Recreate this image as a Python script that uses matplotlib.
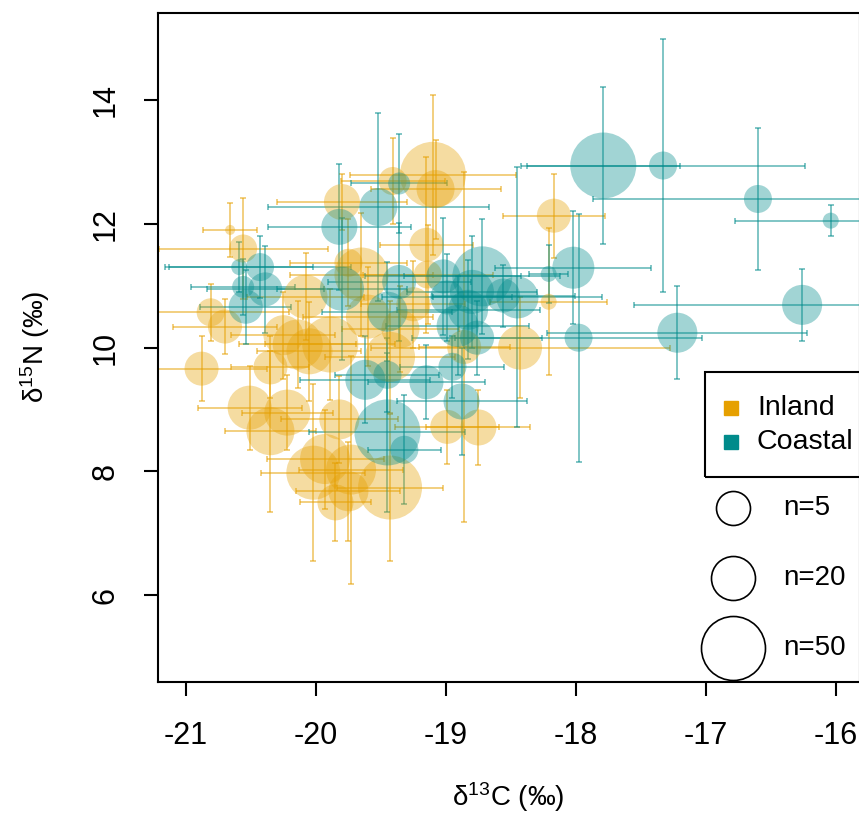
import numpy as np
import matplotlib
matplotlib.use("Agg")
import matplotlib.pyplot as plt
from matplotlib.lines import Line2D
from matplotlib.patches import Rectangle

plt.rcParams["font.family"] = ["Liberation Sans", "DejaVu Sans"]
plt.rcParams["mathtext.fontset"] = "custom"
plt.rcParams["mathtext.rm"] = "Liberation Sans"
plt.rcParams["mathtext.it"] = "Liberation Sans:italic"
plt.rcParams["mathtext.bf"] = "Liberation Sans:bold"

# ---- Inland sites: mean d13C, mean d15N, sample size, SDs ----
inland_d13c = [-20.66, -20.56, -20.81, -20.70, -20.88, -20.51, -20.35, -20.22, -20.02, -19.85,
               -19.73, -19.75, -19.93, -19.43, -20.14, -20.05, -20.35, -19.89, -19.43, -19.65,
               -19.10, -19.08, -19.41, -19.80, -19.15, -18.17, -18.21, -18.43, -18.75, -18.99,
               -19.14, -19.82, -20.08, -19.25, -18.86, -19.60, -19.35, -20.25, -19.75]
inland_d15n = [11.90, 11.60, 10.57, 10.34, 9.66, 9.03, 8.65, 8.95, 7.98, 7.50,
               8.03, 7.68, 8.20, 7.74, 10.05, 9.94, 9.68, 10.05, 9.85, 11.18,
               12.79, 12.56, 12.69, 12.35, 11.66, 12.13, 10.74, 10.00, 8.71, 8.72,
               11.18, 8.84, 10.82, 10.70, 10.01, 10.50, 10.30, 10.20, 11.37]
inland_n = [1, 4, 4, 5, 5, 20, 26, 23, 35, 8,
            29, 14, 29, 50, 29, 23, 5, 38, 29, 35,
            53, 11, 4, 8, 5, 5, 2, 20, 8, 5,
            4, 14, 20, 5, 5, 20, 11, 14, 4]
inland_sd13c = [0.21, 0.65, 0.60, 0.40, 0.50, 0.40, 0.35, 0.35, 0.40, 0.27,
                0.40, 0.40, 0.45, 0.41, 0.45, 0.40, 0.30, 0.50, 0.50, 0.55,
                0.64, 0.50, 0.40, 0.50, 0.36, 0.39, 0.45, 1.15, 0.40, 0.40,
                0.50, 0.45, 0.45, 0.40, 0.35, 0.50, 0.45, 0.40, 0.45]
inland_sd15n = [0.43, 0.82, 0.46, 0.45, 0.53, 0.68, 1.30, 0.60, 1.43, 0.63,
                1.84, 0.80, 0.80, 1.19, 0.70, 0.80, 0.50, 0.90, 0.90, 1.00,
                1.29, 0.80, 0.70, 0.45, 1.42, 0.68, 1.19, 0.81, 0.60, 0.60,
                0.80, 0.70, 0.70, 0.70, 2.83, 0.80, 0.70, 0.70, 0.70]

# ---- Coastal sites ----
coastal_d13c = [-17.79, -17.33, -16.60, -16.04, -16.26, -17.22, -17.98, -18.02, -18.21, -18.45,
                -18.56, -18.72, -18.80, -19.02, -19.36, -19.52, -19.82, -19.80, -19.36, -19.45,
                -19.62, -19.45, -19.15, -18.95, -18.88, -19.45, -19.32, -18.91, -18.76, -20.59,
                -20.43, -20.56, -20.39, -20.54, -18.99, -18.83]
coastal_d15n = [12.94, 12.94, 12.40, 12.05, 10.69, 10.24, 10.16, 11.29, 11.19, 10.81,
                10.84, 11.15, 10.90, 11.15, 12.65, 12.27, 11.95, 10.95, 11.06, 10.58,
                9.48, 9.56, 9.44, 9.69, 9.13, 8.63, 8.35, 10.35, 10.16, 11.30,
                11.30, 10.98, 10.94, 10.66, 10.81, 10.61]
coastal_n = [53, 4, 4, 2, 14, 14, 4, 17, 2, 17,
             5, 44, 20, 5, 3, 11, 8, 20, 5, 14,
             14, 4, 5, 4, 8, 53, 4, 17, 5, 2,
             4, 3, 5, 5, 5, 14]
coastal_sd13c = [0.59, 1.09, 1.27, 0.74, 1.29, 1.00, 0.95, 0.60, 0.15, 0.65,
                 0.55, 0.60, 0.50, 0.60, 0.37, 0.85, 0.55, 0.50, 0.55, 0.50,
                 0.50, 0.40, 0.45, 0.40, 0.50, 0.60, 0.28, 0.55, 0.50, 0.57,
                 0.70, 0.40, 0.45, 0.35, 0.50, 0.55]
coastal_sd15n = [1.27, 2.05, 1.15, 0.25, 0.58, 0.75, 2.00, 0.91, 0.47, 2.10,
                 0.50, 0.93, 0.90, 0.95, 0.80, 1.52, 1.02, 1.15, 0.95, 0.80,
                 0.70, 0.60, 0.60, 0.50, 0.87, 1.29, 0.88, 0.80, 0.60, 0.40,
                 0.50, 0.45, 0.70, 0.60, 0.70, 0.80]

group_labels = ["Inland", "Coastal"]
legend_n = [5, 20, 50]
x_ticks = [-21, -20, -19, -18, -17, -16]
y_ticks = [6, 8, 10, 12, 14]

INLAND_COL = "#E6A000"
COAST_COL = "#008B8B"

W, H = 859, 813
DPI = 100


def radius_px(n):
    """Circle radius (pixels) used to encode sample size."""
    return np.interp(n, [0, 5, 20, 50, 100], [2, 17, 22, 32, 48.67])


def area_pts(n):
    d = 2 * radius_px(np.asarray(n, float)) * 72.0 / DPI
    return d ** 2


def fx(px):
    return px / W


def fy(py):
    return 1 - py / H


fig = plt.figure(figsize=(W / DPI, H / DPI), dpi=DPI)
ax = fig.add_axes([fx(158), fy(682), (860 - 158) / W, (682 - 13) / H])
ax.set_xlim(-21.215, -15.815)
ax.set_ylim(4.60, 15.403)

for d13c, d15n, n, s13, s15, col in [
    (inland_d13c, inland_d15n, inland_n, inland_sd13c, inland_sd15n, INLAND_COL),
    (coastal_d13c, coastal_d15n, coastal_n, coastal_sd13c, coastal_sd15n, COAST_COL),
]:
    ax.errorbar(d13c, d15n, xerr=s13, yerr=s15, fmt="none", ecolor=col,
                alpha=0.5, elinewidth=1.4, capsize=2, capthick=1.4, zorder=2)
    ax.scatter(d13c, d15n, s=area_pts(n), color=col, alpha=0.37,
               linewidths=0, zorder=3)

for side in ["left", "top", "bottom", "right"]:
    ax.spines[side].set_linewidth(1.5)
ax.set_xticks(x_ticks)
ax.set_xticklabels([str(t) for t in x_ticks])
ax.set_yticks(y_ticks)
ax.set_yticklabels([str(t) for t in y_ticks], rotation=90, va="center")
ax.tick_params(axis="both", direction="out", length=10, width=1.5, labelsize=22)
ax.tick_params(axis="x", pad=18)
ax.tick_params(axis="y", pad=17)

fig.text(fx(508), fy(797), "δ$^{13}$C (‰)", ha="center", va="center", fontsize=20)
fig.text(fx(35), fy(347), "δ$^{15}$N (‰)", ha="center", va="center",
         rotation=90, fontsize=20)

# group legend box
fig.add_artist(Rectangle((fx(705), fy(477)), fx(880) - fx(705), fy(372) - fy(477),
                         transform=fig.transFigure, fill=False, edgecolor="black",
                         linewidth=1.5))
for lab, col, py in zip(group_labels, [INLAND_COL, COAST_COL], [408, 442]):
    fig.add_artist(Line2D([fx(731)], [fy(py)], marker="s", markersize=10, color=col,
                          linestyle="none", transform=fig.transFigure))
    fig.text(fx(757), fy(py), lab, ha="left", va="center", fontsize=20.5)

# sample-size legend
for n, py in zip(legend_n, [508, 578, 648]):
    fig.add_artist(Line2D([fx(733)], [fy(py)], marker="o",
                          markersize=2 * radius_px(n) * 72.0 / DPI,
                          markerfacecolor="none", markeredgecolor="black",
                          markeredgewidth=1.2, linestyle="none",
                          transform=fig.transFigure))
    fig.text(fx(783), fy(py), f"n={n}", ha="left", va="center", fontsize=20)

fig.savefig("out.png", dpi=DPI)
